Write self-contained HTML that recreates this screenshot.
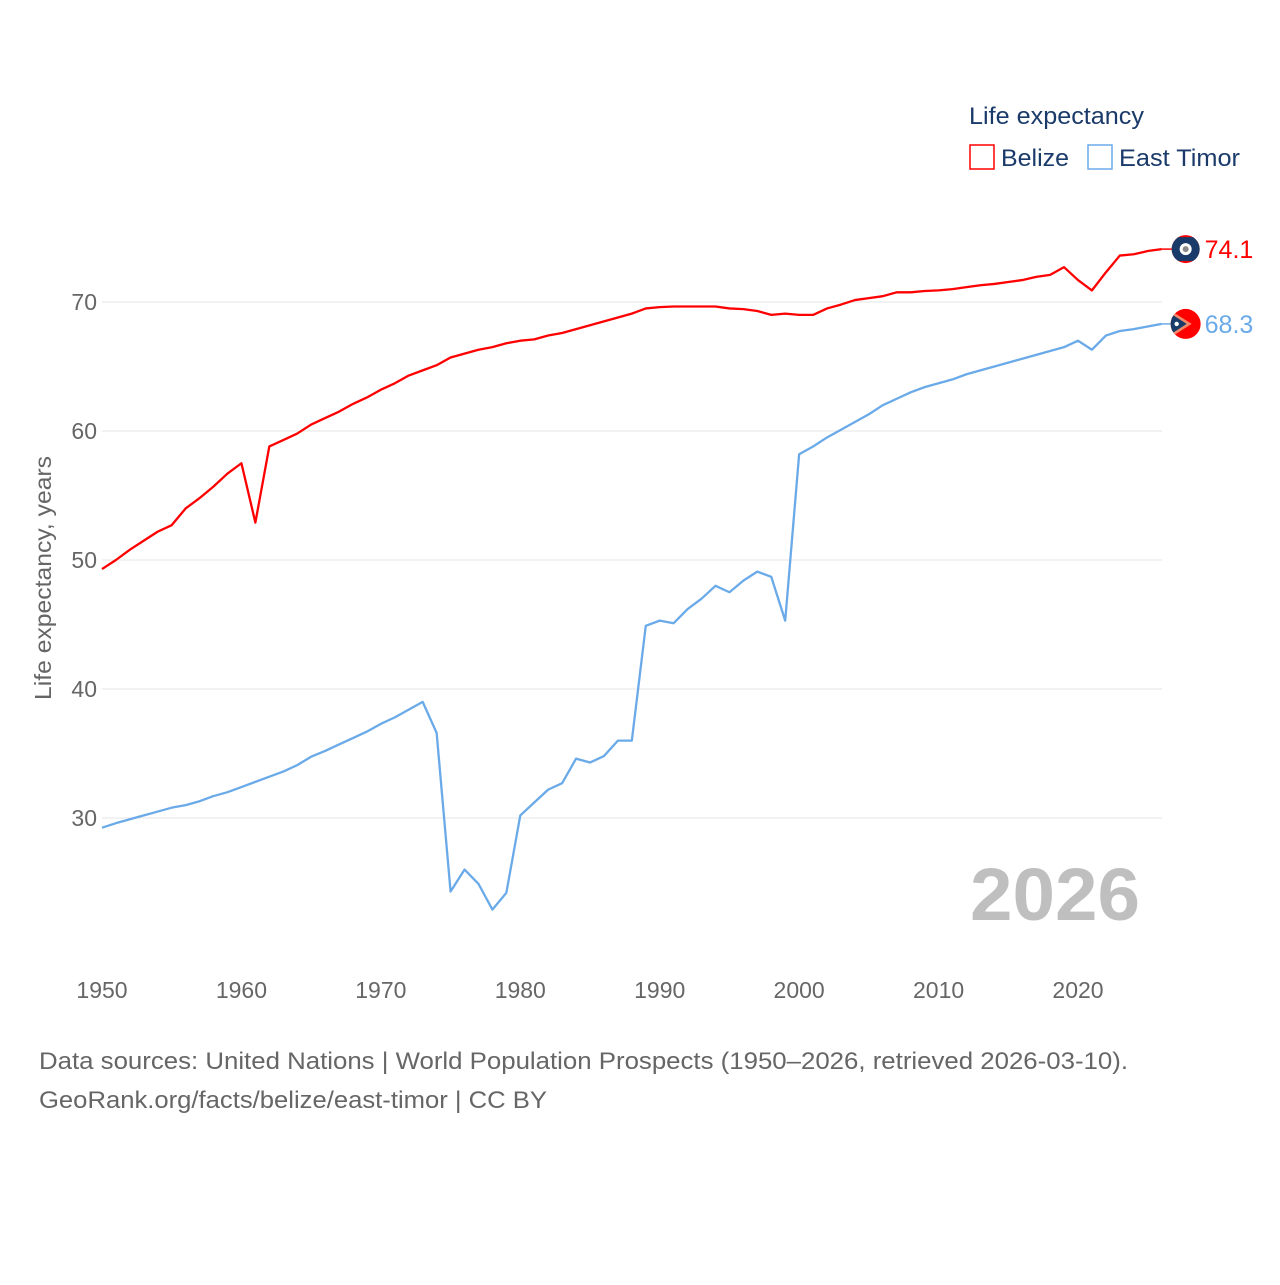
<!DOCTYPE html>
<html><head><meta charset="utf-8">
<style>
body{margin:0;background:#fff;}
svg text{font-family:"Liberation Sans",sans-serif;}
</style></head>
<body>
<svg width="1280" height="1280" viewBox="0 0 1280 1280" xmlns="http://www.w3.org/2000/svg">
<defs>
<clipPath id="clipB"><circle id="cB" cx="0" cy="0" r="14"/></clipPath>
<clipPath id="clipE"><circle id="cE" cx="0" cy="0" r="15"/></clipPath>
</defs>
<rect width="1280" height="1280" fill="#fff"/>
<g id="grid"></g>
<g id="yticks"></g>
<g id="xticks"></g>
<text transform="translate(51,578) rotate(-90)" text-anchor="middle" font-size="23" fill="#666" textLength="244" lengthAdjust="spacingAndGlyphs">Life expectancy, years</text>
<text x="1140" y="920" text-anchor="end" font-size="74" font-weight="bold" fill="#bfbfbf" textLength="170" lengthAdjust="spacingAndGlyphs">2026</text>
<g id="series"></g>
<g>
<text x="969" y="124" font-size="24" fill="#1a3a6a" textLength="175" lengthAdjust="spacingAndGlyphs">Life expectancy</text>
<g>
<rect x="970" y="145" width="24" height="24" fill="none" stroke="#ff0000" stroke-width="1.5"/>
<text x="1001" y="166" font-size="24" fill="#1a3a6a" textLength="68" lengthAdjust="spacingAndGlyphs">Belize</text></g>
<g>
<rect x="1088" y="145" width="24" height="24" fill="none" stroke="#6aaae8" stroke-width="1.5"/>
<text x="1119" y="166" font-size="24" fill="#1a3a6a" textLength="121" lengthAdjust="spacingAndGlyphs">East Timor</text></g>
</g>
<text x="39" y="1069" font-size="24" fill="#666" textLength="1089" lengthAdjust="spacingAndGlyphs">Data sources: United Nations | World Population Prospects (1950–2026, retrieved 2026-03-10).</text>
<text x="39" y="1108" font-size="24" fill="#666" textLength="508" lengthAdjust="spacingAndGlyphs">GeoRank.org/facts/belize/east-timor | CC BY</text>
</svg>
<script>
const years = [];
for (let y = 1950; y <= 2026; y++) years.push(y);
const belize = [49.3,50.0,50.8,51.5,52.2,52.7,54.0,54.8,55.7,56.7,57.5,52.9,58.8,59.3,59.8,60.5,61.0,61.5,62.1,62.6,63.2,63.7,64.3,64.7,65.1,65.7,66.0,66.3,66.5,66.8,67.0,67.1,67.4,67.6,67.9,68.2,68.5,68.8,69.1,69.5,69.6,69.65,69.65,69.65,69.65,69.5,69.45,69.3,69.0,69.1,69.0,69.0,69.5,69.8,70.15,70.3,70.45,70.75,70.75,70.85,70.9,71.0,71.15,71.3,71.4,71.55,71.7,71.95,72.1,72.7,71.7,70.9,72.3,73.6,73.7,73.95,74.1];
const eastTimor = [29.25,29.6,29.9,30.2,30.5,30.8,31.0,31.3,31.7,32.0,32.4,32.8,33.2,33.6,34.1,34.75,35.2,35.7,36.2,36.7,37.3,37.8,38.4,39.0,36.6,24.3,26.0,24.9,22.9,24.2,30.2,31.2,32.2,32.7,34.6,34.3,34.8,36.0,36.0,44.9,45.3,45.1,46.2,47.0,48.0,47.5,48.4,49.1,48.7,45.3,58.2,58.8,59.5,60.1,60.7,61.3,62.0,62.5,63.0,63.4,63.7,64.0,64.4,64.7,65.0,65.3,65.6,65.9,66.2,66.5,67.0,66.3,67.4,67.75,67.9,68.1,68.3];
const yTicks = [30,40,50,60,70];
const xTicks = [1950,1960,1970,1980,1990,2000,2010,2020];

const NS = "http://www.w3.org/2000/svg";
const X = y => 102 + (y - 1950) * (976 / 70);
const Y = v => 302 + (70 - v) * 12.9;
function mk(tag, attrs, parent){const e=document.createElementNS(NS,tag);for(const k in attrs)e.setAttribute(k,attrs[k]);parent.appendChild(e);return e;}

const grid=document.getElementById('grid'), yt=document.getElementById('yticks'), xt=document.getElementById('xticks'), ser=document.getElementById('series');
yTicks.forEach(t=>{
  const l=mk('line',{x1:102,x2:1162,y1:Y(t),y2:Y(t),stroke:'#e6e6e6','stroke-width':1},grid);
  
  
  const tx=mk('text',{x:97,y:Y(t)+8,'text-anchor':'end','font-size':23,fill:'#666'},yt);
  tx.textContent=t;
  
  
});
xTicks.forEach(t=>{
  const tx=mk('text',{x:X(t),y:998,'text-anchor':'middle','font-size':23,fill:'#666'},xt);
  tx.textContent=t;
  
  
});
function line(vals,color,name){
  const p=mk('polyline',{points:vals.map((v,i)=>X(years[i])+','+Y(v)).join(' '),fill:'none',stroke:color,'stroke-width':2.3,'stroke-linejoin':'round'},ser);
  
  
}
line(belize,'#ff0000','belize-line');
line(eastTimor,'#6aaae8','east-timor-line');

const bl=belize[belize.length-1], et=eastTimor[eastTimor.length-1];
const bx=X(2026)+24;
document.getElementById('cB').setAttribute('cx',bx);
document.getElementById('cB').setAttribute('cy',Y(bl));
document.getElementById('cE').setAttribute('cx',bx);
document.getElementById('cE').setAttribute('cy',Y(et));

let g=mk('g',{},ser);


mk('line',{x1:X(2026),x2:bx-14,y1:Y(bl),y2:Y(bl),stroke:'#ff0000','stroke-width':1.5},g);
let fg=mk('g',{'clip-path':'url(#clipB)'},g);
mk('rect',{x:bx-15,y:Y(bl)-15,width:30,height:30,fill:'#ff0000'},fg);
mk('rect',{x:bx-15,y:Y(bl)-12,width:30,height:24,fill:'#1a3a6a'},fg);
mk('circle',{cx:bx,cy:Y(bl),r:6,fill:'#fff'},fg);
mk('circle',{cx:bx,cy:Y(bl),r:3,fill:'#8a8a8a'},fg);
let t=mk('text',{x:bx+19,y:Y(bl)+9,'font-size':25,fill:'#ff0000'},ser);
t.textContent=bl.toFixed(1);



g=mk('g',{},ser);


mk('line',{x1:X(2026),x2:bx-15,y1:Y(et),y2:Y(et),stroke:'#6aaae8','stroke-width':1.5},g);
fg=mk('g',{'clip-path':'url(#clipE)'},g);
mk('rect',{x:bx-16,y:Y(et)-16,width:32,height:32,fill:'#ff0000'},fg);
mk('path',{d:`M${bx-16},${Y(et)-14} L${bx+6},${Y(et)} L${bx-16},${Y(et)+14} Z`,fill:'#f08a6a'},fg);
mk('path',{d:`M${bx-16},${Y(et)-11} L${bx+1},${Y(et)} L${bx-16},${Y(et)+11} Z`,fill:'#1a3a6a'},fg);
mk('circle',{cx:bx-9,cy:Y(et),r:2.2,fill:'#fff'},fg);
t=mk('text',{x:bx+19,y:Y(et)+9,'font-size':25,fill:'#6aaae8'},ser);
t.textContent=et.toFixed(1);


</script>
</body></html>
